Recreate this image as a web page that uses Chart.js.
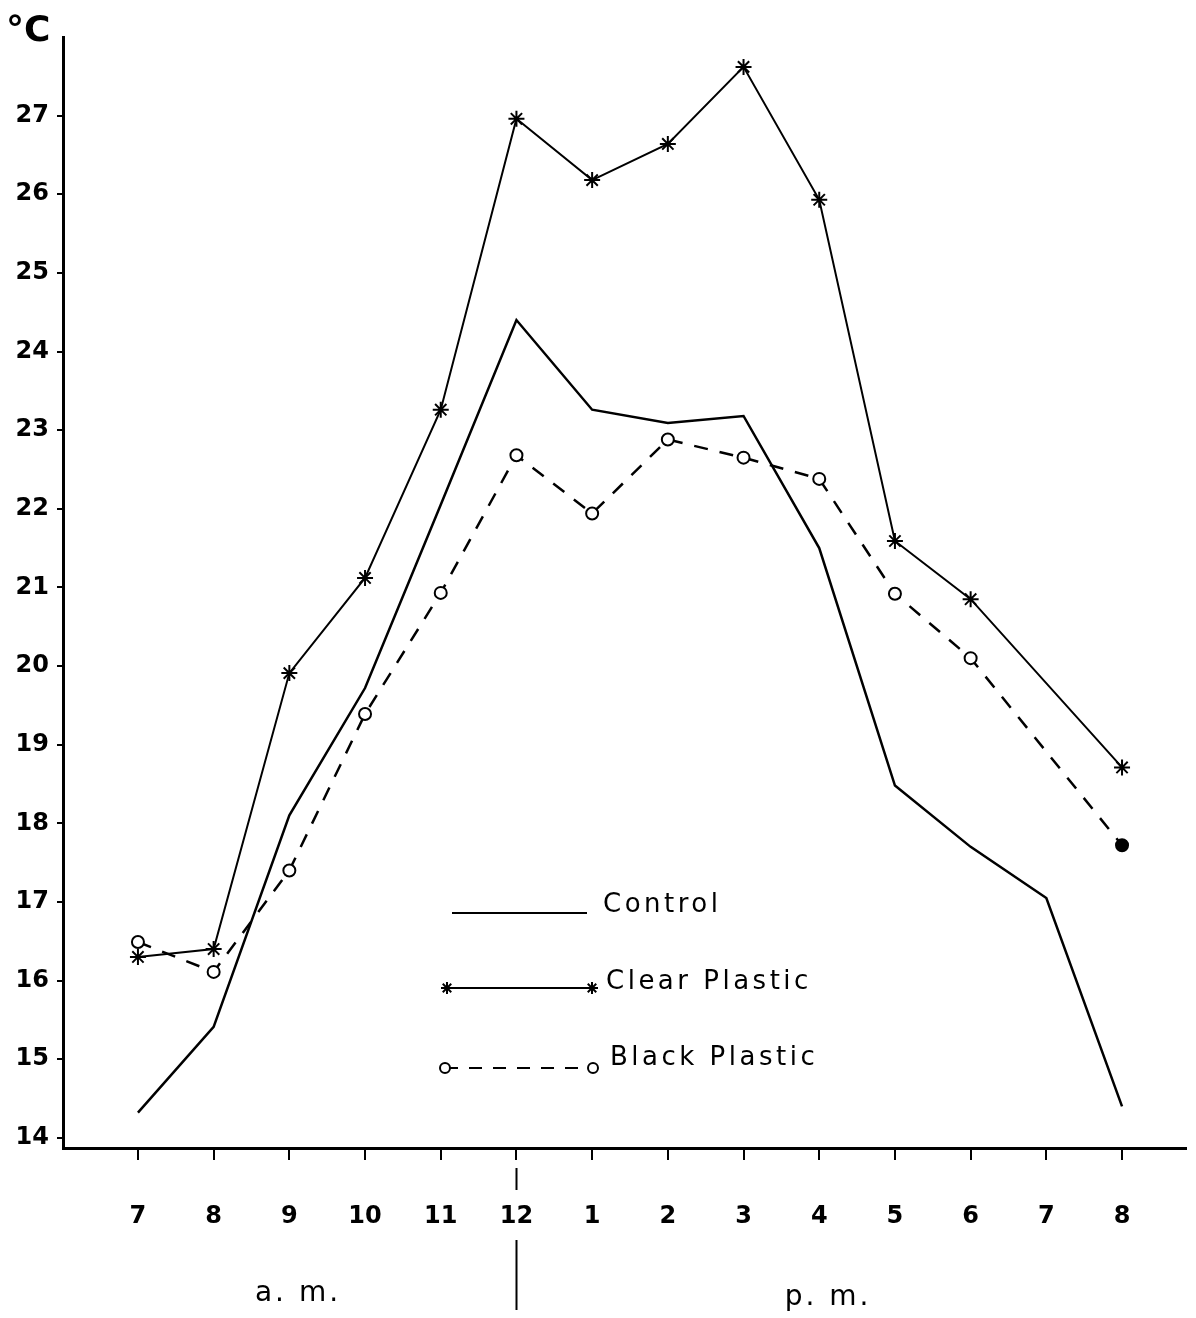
<!DOCTYPE html>
<html>
<head>
<meta charset="utf-8">
<script src="https://cdn.jsdelivr.net/npm/chart.js@4/dist/chart.umd.min.js"></script>
<style>
  html, body { margin: 0; padding: 0; background: #fff; }
  #wrap { position: relative; width: 1196px; height: 1318px; }
</style>
</head>
<body>
<div id="wrap"><canvas id="temp-chart" width="1196" height="1318"></canvas></div>
<script>
// hours of the day, 7 a.m. to 8 p.m.
const hours = ["7", "8", "9", "10", "11", "12", "1", "2", "3", "4", "5", "6", "7", "8"];
const control = [14.32, 15.41, 18.1, 19.72, 22.05, 24.4, 23.26, 23.09, 23.18, 21.5, 18.48, 17.7, 17.05, 14.4];
const clearPlastic = [16.3, 16.4, 19.91, 21.12, 23.26, 26.96, 26.18, 26.64, 27.62, 25.93, 21.59, 20.85, null, 18.71];
const blackPlastic = [16.49, 16.11, 17.4, 19.39, 20.93, 22.68, 21.94, 22.88, 22.65, 22.38, 20.92, 20.1, null, 17.72];
const yTicks = [14, 15, 16, 17, 18, 19, 20, 21, 22, 23, 24, 25, 26, 27];

const FONT = "'DejaVu Sans', sans-serif";
const toPoints = (arr) => arr.map((v, i) => ({ x: i, y: v }));

// legend + a.m./p.m. + unit drawn on the canvas
const extras = {
  id: "extras",
  afterDraw(chart) {
    const ctx = chart.ctx;
    const xs = chart.scales.x;
    ctx.save();
    ctx.fillStyle = "#000";
    ctx.strokeStyle = "#000";
    ctx.textBaseline = "middle";

    // unit
    ctx.font = "bold 36px " + FONT;
    ctx.textAlign = "left";
    ctx.fillText("°C", 6, 32);

    // noon divider under the axis
    const xNoon = Math.round(xs.getPixelForValue(5)) + 0.5;
    ctx.lineWidth = 2;
    ctx.beginPath();
    ctx.moveTo(xNoon, 1168); ctx.lineTo(xNoon, 1190);
    ctx.moveTo(xNoon, 1240); ctx.lineTo(xNoon, 1310);
    ctx.stroke();

    ctx.font = "28px " + FONT;
    ctx.letterSpacing = "3px";
    ctx.textAlign = "center";
    ctx.fillText("a. m.", 298, 1294);
    ctx.fillText("p. m.", 828, 1298);

    // legend
    const rows = [
      { label: "Control", y: 913, ty: 905, x0: 452, x1: 587, tx: 603, dash: [], style: false },
      { label: "Clear Plastic", y: 988, ty: 982, x0: 447, x1: 592, tx: 606, dash: [], style: "star" },
      { label: "Black Plastic", y: 1068, ty: 1058, x0: 445, x1: 593, tx: 610, dash: [13, 11], style: "circle" },
    ];
    ctx.font = "26px " + FONT;
    ctx.letterSpacing = "3.5px";
    ctx.textAlign = "left";
    rows.forEach((r) => {
      ctx.lineWidth = 2;
      ctx.setLineDash(r.dash);
      ctx.beginPath();
      ctx.moveTo(r.x0, r.y); ctx.lineTo(r.x1, r.y);
      ctx.stroke();
      ctx.setLineDash([]);
      if (r.style) {
        ctx.fillStyle = "#fff";
        const opts = { pointStyle: r.style, radius: r.style === "star" ? 6 : 5, borderWidth: 1.5, rotation: 0 };
        Chart.helpers.drawPoint(ctx, opts, r.x0, r.y);
        Chart.helpers.drawPoint(ctx, opts, r.x1, r.y);
        ctx.fillStyle = "#000";
      }
      ctx.fillText(r.label, r.tx, r.ty);
    });
    ctx.restore();
  },
};

new Chart(document.getElementById("temp-chart"), {
  type: "line",
  data: {
    datasets: [
      {
        label: "Control",
        data: toPoints(control),
        borderColor: "#000",
        borderWidth: 2.5,
        pointRadius: 0,
        tension: 0,
      },
      {
        label: "Clear Plastic",
        data: toPoints(clearPlastic),
        borderColor: "#000",
        borderWidth: 2,
        pointStyle: "star",
        pointRadius: 8,
        pointBorderWidth: 2,
        pointBorderColor: "#000",
        pointBackgroundColor: "#fff",
        spanGaps: true,
        tension: 0,
      },
      {
        label: "Black Plastic",
        data: toPoints(blackPlastic),
        borderColor: "#000",
        borderWidth: 2.5,
        borderDash: [14, 12],
        pointStyle: "circle",
        pointRadius: 6,
        pointBorderWidth: 2,
        pointBorderColor: "#000",
        pointBackgroundColor: blackPlastic.map((v, i) => (i === blackPlastic.length - 1 ? "#000" : "#fff")),
        spanGaps: true,
        tension: 0,
      },
    ],
  },
  options: {
    responsive: false,
    animation: false,
    layout: { padding: { top: 37, right: 0, left: 0, bottom: 0 } },
    plugins: { legend: { display: false }, tooltip: { enabled: false } },
    scales: {
      x: {
        type: "linear",
        min: -0.99,
        max: 13.845,
        afterBuildTicks: (s) => { s.ticks = hours.map((h, i) => ({ value: i })); },
        afterFit: (s) => { s.height = 170; },
        ticks: {
          color: "#000",
          font: { family: FONT, size: 24, weight: "bold" },
          padding: 42,
          maxRotation: 0,
          autoSkip: false,
          callback: (v) => hours[v],
        },
        grid: { drawOnChartArea: false, drawTicks: true, tickLength: 12, color: "#000", lineWidth: 2 },
        border: { display: true, color: "#000", width: 3 },
      },
      y: {
        min: 13.87,
        max: 28,
        afterBuildTicks: (s) => { s.ticks = yTicks.map((v) => ({ value: v })); },
        afterFit: (s) => { s.width = 63; },
        ticks: {
          color: "#000",
          font: { family: FONT, size: 24, weight: "bold" },
          padding: 8,
          autoSkip: false,
        },
        grid: { drawOnChartArea: false, drawTicks: true, tickLength: 6, color: "#000", lineWidth: 2 },
        border: { display: true, color: "#000", width: 3 },
      },
    },
  },
  plugins: [extras],
});
</script>
</body>
</html>
